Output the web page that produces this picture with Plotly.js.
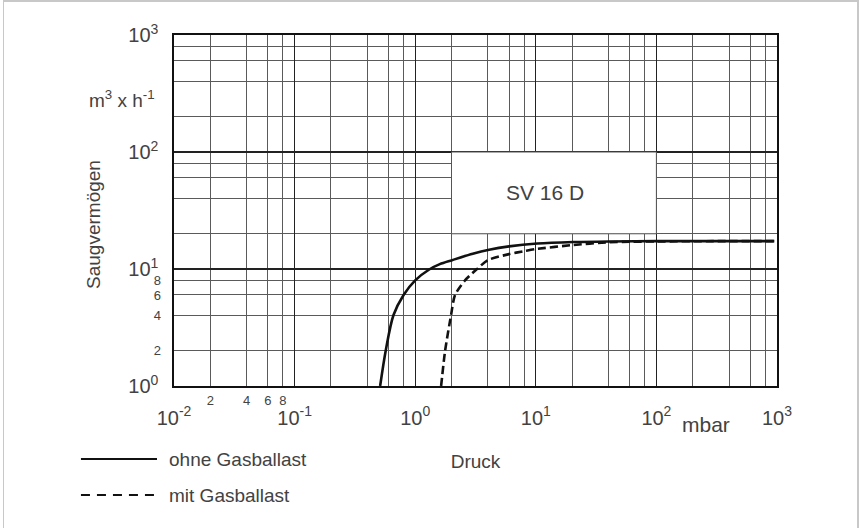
<!DOCTYPE html>
<html>
<head>
<meta charset="utf-8">
<script src="https://cdn.plot.ly/plotly-3.0.1.min.js"></script>
<style>
  html, body { margin: 0; padding: 0; background: #fff; overflow: hidden; }
  #frame { position: absolute; left: 3px; top: 0px; width: 853px; height: 540px;
           border-top: 2px solid #c8c8c8; border-left: 1px solid #c8c8c8; border-right: 2px solid #c8c8c8; }
  #chart { position: absolute; left: 0; top: 0; width: 859px; height: 528px; }
</style>
</head>
<body>
<div id="frame"></div>
<div id="chart"></div>
<script>
// ---- data ----
const ohneX = [0.512, 0.571, 0.661, 0.801, 1.0, 1.307, 1.6, 2.02, 3, 4.1, 6, 10.3, 20.5, 40, 100, 300, 950];
const ohneY = [1.0, 2.03, 4.04, 6.0, 8.0, 9.9, 11.0, 11.9, 13.5, 14.6, 15.6, 16.5, 17.0, 17.2, 17.3, 17.3, 17.3];
const mitX = [1.64, 1.77, 1.98, 2.14, 2.59, 3.26, 4, 6, 8, 10, 20, 40, 60, 100, 300, 950];
const mitY = [1.0, 2.0, 4.0, 6.0, 8.0, 10.0, 11.9, 13.4, 14.2, 14.8, 16.0, 16.9, 17.1, 17.2, 17.3, 17.3];
const seriesNames = ["ohne Gasballast", "mit Gasballast"];

const xMajorVals = [0.01, 0.1, 1, 10, 100, 1000];
const xMajorText = ["10<sup>-2</sup>", "10<sup>-1</sup>", "10<sup>0</sup>", "10<sup>1</sup>", "10<sup>2</sup>", "10<sup>3</sup>"];
const xMinorGrid = [0.02,0.04,0.06,0.08, 0.2,0.4,0.6,0.8, 2,4,6,8, 20,40,60,80, 200,400,600,800];
const xMinorLabelVals = [0.02, 0.04, 0.06, 0.08];
const xMinorLabelText = ["2", "4", "6", "8"];

const yMajorVals = [1, 10, 100, 1000];
const yMajorText = ["10<sup>0</sup>", "10<sup>1</sup>", "10<sup>2</sup>", "10<sup>3</sup>"];
const yMinorGrid = [2,4,6,8, 20,40,60,80, 200,400,600,800];
const yMinorLabelVals = [2, 4, 6, 8];
const yMinorLabelText = ["2", "4", "6", "8"];

const boxLabel = "SV 16 D";
const xTitle = "Druck";
const yTitle = "Saugvermögen";
const xUnit = "mbar";
const yUnit = "m<sup>3</sup> x h<sup>-1</sup>";

// ---- plot ----
const FONT = "Liberation Sans, Arial, Helvetica, sans-serif";
const TXT = "#424242";

const traces = [
  { x: ohneX, y: ohneY, name: seriesNames[0], type: "scatter", mode: "lines",
    line: { color: "#111", width: 2.6, shape: "spline", smoothing: 0.9 }, showlegend: false },
  { x: mitX, y: mitY, name: seriesNames[1], type: "scatter", mode: "lines",
    line: { color: "#111", width: 2.6, dash: "8px,4px", shape: "spline", smoothing: 0.7 }, showlegend: false },
  // invisible helper so the overlay axes carrying the small labels are drawn
  { x: [1], y: [1], xaxis: "x2", yaxis: "y2", mode: "markers", marker: { opacity: 0 },
    hoverinfo: "skip", showlegend: false }
];

const W = 602.7, H = 351, L = 174, T = 35;
const px = v => (v - L) / W;
const py = v => (T + H - v) / H;

const layout = {
  width: 859, height: 528,
  margin: { l: 174, r: 82, t: 35, b: 142, pad: 0 },
  paper_bgcolor: "rgba(0,0,0,0)", plot_bgcolor: "#fff",
  font: { family: FONT, color: TXT },
  showlegend: false,
  xaxis: {
    type: "log", range: [-2, 3], fixedrange: true,
    tickmode: "array", tickvals: xMajorVals, ticktext: xMajorText,
    tickfont: { size: 20, color: TXT }, ticks: "", ticklabelstandoff: 13,
    showgrid: true, gridcolor: "#222", gridwidth: 1.3,
    minor: { tickmode: "array", tickvals: xMinorGrid, showgrid: true, gridcolor: "#5a5a5a", gridwidth: 1, ticks: "" },
    showline: true, mirror: true, linecolor: "#111", linewidth: 1.6, zeroline: false,
    title: { text: xTitle, font: { size: 19, color: TXT }, standoff: 27 }
  },
  xaxis2: {
    type: "log", range: [-2, 3], overlaying: "x", anchor: "y", side: "bottom", fixedrange: true,
    tickmode: "array", tickvals: xMinorLabelVals, ticktext: xMinorLabelText,
    tickfont: { size: 13, color: TXT }, ticks: "", ticklabelstandoff: 5,
    showgrid: false, showline: false, zeroline: false
  },
  yaxis: {
    type: "log", range: [0, 3], fixedrange: true,
    tickmode: "array", tickvals: yMajorVals, ticktext: yMajorText,
    tickfont: { size: 20, color: TXT }, ticks: "", ticklabelstandoff: 10,
    showgrid: true, gridcolor: "#222", gridwidth: 1.3,
    minor: { tickmode: "array", tickvals: yMinorGrid, showgrid: true, gridcolor: "#5a5a5a", gridwidth: 1, ticks: "" },
    showline: true, mirror: true, linecolor: "#111", linewidth: 1.6, zeroline: false
  },
  yaxis2: {
    type: "log", range: [0, 3], overlaying: "y", anchor: "x", side: "left", fixedrange: true,
    tickmode: "array", tickvals: yMinorLabelVals, ticktext: yMinorLabelText,
    tickfont: { size: 13, color: TXT }, ticks: "", ticklabelstandoff: 12,
    showgrid: false, showline: false, zeroline: false
  },
  shapes: [
    { type: "rect", xref: "x", yref: "y", x0: 2, x1: 100, y0: 20, y1: 100,
      fillcolor: "#fff", line: { color: "#555", width: 1 }, layer: "above" },
    // legend samples
    { type: "line", xref: "paper", yref: "paper", x0: px(81), x1: px(157), y0: py(459), y1: py(459),
      line: { color: "#111", width: 2 } },
    { type: "line", xref: "paper", yref: "paper", x0: px(81), x1: px(157), y0: py(495), y1: py(495),
      line: { color: "#111", width: 2, dash: "9px,7px" } }
  ],
  annotations: [
    { text: boxLabel, xref: "x", yref: "y", x: Math.log10(Math.sqrt(2 * 100)), y: Math.log10(Math.sqrt(20 * 100)),
      xshift: -9, xanchor: "center", yanchor: "middle", showarrow: false, font: { size: 21, color: TXT } },
    { text: seriesNames[0], xref: "paper", yref: "paper", x: px(167), y: py(459), xanchor: "left", yanchor: "middle",
      showarrow: false, font: { size: 19, color: TXT } },
    { text: seriesNames[1], xref: "paper", yref: "paper", x: px(167), y: py(495), xanchor: "left", yanchor: "middle",
      showarrow: false, font: { size: 19, color: TXT } },
    { text: yTitle, xref: "paper", yref: "paper", x: px(93), y: py(224), textangle: -90,
      xanchor: "center", yanchor: "middle", showarrow: false, font: { size: 19, color: TXT } },
    { text: yUnit, xref: "paper", yref: "paper", x: px(122), y: py(99),
      xanchor: "center", yanchor: "middle", showarrow: false, font: { size: 19, color: TXT } },
    { text: xUnit, xref: "paper", yref: "paper", x: px(706), y: py(424),
      xanchor: "center", yanchor: "middle", showarrow: false, font: { size: 21, color: TXT } }
  ]
};

Plotly.newPlot("chart", traces, layout, { displayModeBar: false, staticPlot: true });
</script>
</body>
</html>
